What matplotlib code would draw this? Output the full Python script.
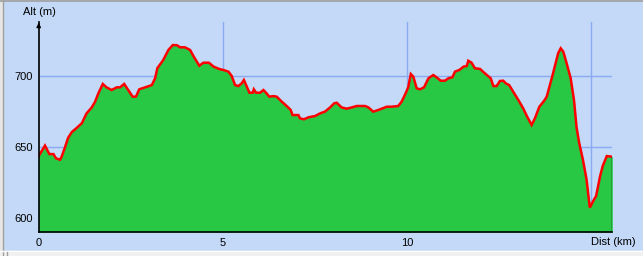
import matplotlib
matplotlib.use("Agg")
import matplotlib.pyplot as plt
from matplotlib.patches import Rectangle
from matplotlib.lines import Line2D

dist_km = [0.00, 0.17, 0.29, 0.40, 0.47, 0.58, 0.62, 0.71, 0.80, 0.90, 1.01, 1.17, 1.30, 1.44,
           1.53, 1.62, 1.74, 1.84, 1.98, 2.12, 2.21, 2.32, 2.43, 2.55, 2.64, 2.73, 2.89, 3.07,
           3.16, 3.22, 3.38, 3.52, 3.64, 3.75, 3.84, 3.97, 4.11, 4.22, 4.36, 4.47, 4.62, 4.75,
           4.92, 5.01, 5.15, 5.24, 5.33, 5.42, 5.51, 5.57, 5.63, 5.72, 5.81, 5.84, 5.90, 6.01,
           6.10, 6.17, 6.26, 6.37, 6.46, 6.60, 6.73, 6.84, 6.89, 7.05, 7.09, 7.20, 7.32, 7.50,
           7.64, 7.77, 7.91, 8.02, 8.09, 8.22, 8.36, 8.50, 8.63, 8.86, 8.95, 9.08, 9.22, 9.45,
           9.58, 9.76, 9.85, 9.94, 10.03, 10.10, 10.17, 10.26, 10.35, 10.46, 10.58, 10.71, 10.80,
           10.91, 11.03, 11.12, 11.23, 11.30, 11.42, 11.53, 11.62, 11.66, 11.75, 11.84, 11.98,
           12.11, 12.27, 12.34, 12.43, 12.52, 12.61, 12.68, 12.77, 12.88, 13.02, 13.15, 13.26,
           13.38, 13.47, 13.59, 13.72, 13.79, 13.86, 13.95, 14.04, 14.10, 14.17, 14.24, 14.33,
           14.44, 14.53, 14.60, 14.67, 14.77, 14.87, 14.96, 15.05, 15.13, 15.24, 15.31, 15.42,
           15.57]
alt_m = [643.6, 651.0, 645.0, 645.0, 642.0, 641.0, 643.0, 649.5, 656.6, 660.6, 663.0, 666.8,
         673.8, 678.0, 682.0, 688.0, 694.6, 692.2, 690.3, 692.2, 692.2, 694.6, 690.3, 685.6,
         685.6, 690.8, 692.2, 693.8, 698.6, 705.7, 711.5, 718.6, 722.1, 722.0, 720.5, 720.5,
         718.6, 713.4, 707.5, 709.6, 709.6, 706.8, 705.0, 704.5, 703.3, 700.2, 693.8, 693.1,
         695.0, 697.4, 693.8, 688.4, 688.4, 690.8, 688.4, 688.4, 690.3, 688.4, 685.6, 686.0,
         685.6, 682.0, 679.0, 676.2, 672.6, 672.6, 670.3, 669.6, 671.0, 671.9, 673.8, 675.0,
         678.0, 680.9, 681.3, 678.0, 677.1, 678.0, 679.0, 679.0, 678.0, 675.0, 676.2, 678.5,
         678.5, 679.0, 682.0, 686.8, 692.2, 701.6, 699.7, 691.5, 690.8, 692.2, 698.6, 700.9,
         699.3, 696.9, 696.9, 698.6, 699.3, 703.3, 704.5, 706.8, 707.3, 711.0, 709.6, 705.7,
         705.2, 702.1, 698.6, 693.1, 693.1, 696.7, 696.9, 695.0, 693.8, 689.1, 683.2, 677.4,
         671.4, 665.6, 670.3, 678.5, 682.7, 685.6, 692.2, 700.9, 710.3, 716.3, 719.8, 717.4,
         709.2, 698.6, 683.2, 664.0, 653.0, 641.3, 627.2, 607.1, 611.8, 615.3, 629.5, 636.6,
         643.6, 643.1]

x_ticks = [0, 5, 10]
x_tick_labels = ["0", "5", "10"]
y_ticks = [600, 650, 700]
y_tick_labels = ["600", "650", "700"]
x_grid = [5, 10, 15]
y_grid = [650, 700]

BG = "#C3D9F7"
GRID = "#8AAAF2"
FILL = "#28C844"
LINE = "#FF0000"

W, H = 643, 256
fig = plt.figure(figsize=(W / 100, H / 100), dpi=100, facecolor=BG)
plt.rcParams['font.family'] = ['Liberation Sans', 'DejaVu Sans']

# window-like borders
fig.patches.append(Rectangle((0, 0), 2 / W, 1, transform=fig.transFigure, color="#E6E6E6", zorder=0))
fig.add_artist(Line2D([2.5 / W, 2.5 / W], [0, 1], transform=fig.transFigure, color="#A0A0A0", lw=1))
fig.add_artist(Line2D([0, 1], [1 - 0.5 / H, 1 - 0.5 / H], transform=fig.transFigure, color="#A0A0A0", lw=1.2))
fig.patches.append(Rectangle((0, 0), 1, 5 / H, transform=fig.transFigure, color="#F0F0F0", zorder=1))
fig.add_artist(Line2D([0, 1], [5 / H, 5 / H], transform=fig.transFigure, color="#FFFFFF", lw=1, zorder=2))
fig.add_artist(Line2D([6.5 / W, 6.5 / W], [0, 4.5 / H], transform=fig.transFigure, color="#A0A0A0", lw=1, zorder=2))

x0, x1 = 38.7, 612.3
y0, y1 = 232, 22
ax = fig.add_axes([x0 / W, (H - y0) / H, (x1 - x0) / W, (y0 - y1) / H])
ax.set_facecolor(BG)
xmax = 15.57
ymin, ymax = 589.9, 738.4
ax.set_xlim(0, xmax)
ax.set_ylim(ymin, ymax)

for g in x_grid:
    ax.axvline(g, color=GRID, lw=1, zorder=1)
for g in y_grid:
    ax.axhline(g, color=GRID, lw=1, zorder=1)

ax.fill_between(dist_km, alt_m, ymin, color=FILL, lw=0, zorder=2)
ax.plot(dist_km, alt_m, color=LINE, lw=1.8, zorder=3, solid_joinstyle="miter")
ax.plot([dist_km[-1], dist_km[-1]], [ymin, alt_m[-1]], color="black", lw=1, zorder=3)

for s in ["top", "right"]:
    ax.spines[s].set_visible(False)
ax.spines["left"].set_color("black")
ax.spines["bottom"].set_color("black")
ax.spines["left"].set_linewidth(1.2)
ax.spines["bottom"].set_linewidth(1.2)
ax.spines["left"].set_zorder(4)
ax.spines["bottom"].set_zorder(4)

ax.set_xticks(x_ticks)
ax.set_xticklabels(x_tick_labels)
ax.set_yticks(y_ticks)
ax.set_yticklabels(y_tick_labels)
ax.tick_params(length=0, labelsize=8, colors="black", pad=4)

# arrow at top of y axis
ax.annotate("", xy=(0, 1.01), xytext=(0, 0.96), xycoords="axes fraction",
            arrowprops=dict(arrowstyle="-|>", color="black", lw=1, mutation_scale=6),
            annotation_clip=False)

fig.text(39.5 / W, 1 - 12 / H, "Alt (m)", ha="center", va="center", fontsize=8)
fig.text(613 / W, 1 - 242 / H, "Dist (km)", ha="center", va="center", fontsize=8)

fig.savefig("out.png", dpi=100, facecolor=BG)
